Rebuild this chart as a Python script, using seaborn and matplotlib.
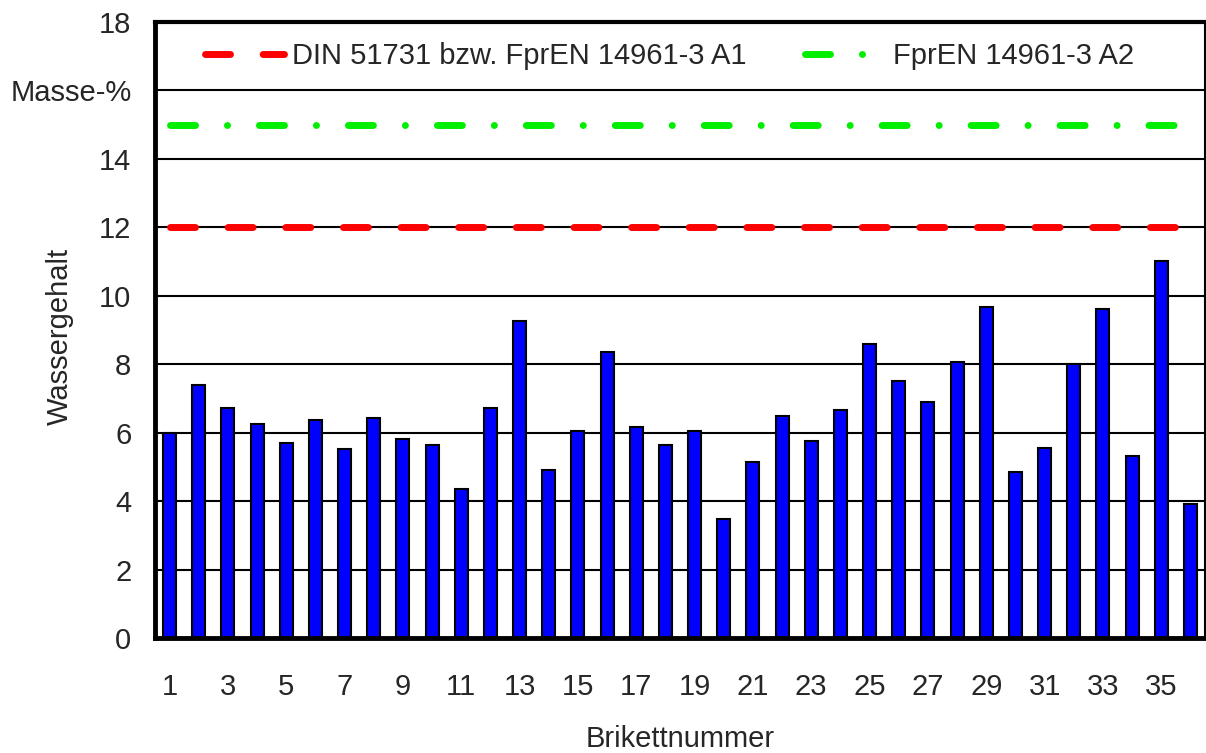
import numpy as np
import pandas as pd
import matplotlib

matplotlib.use("Agg")

import matplotlib.pyplot as plt
import seaborn as sns

sns.set_style("white")
plt.rcParams["font.family"] = ["Liberation Sans", "DejaVu Sans"]

# data
brikett = [str(i) for i in range(1, 37)]
wassergehalt = [
    6.00, 7.38, 6.72, 6.24, 5.70, 6.36, 5.51, 6.43, 5.82, 5.64,
    4.36, 6.72, 9.26, 4.90, 6.06, 8.37, 6.18, 5.64, 6.06, 3.47,
    5.14, 6.49, 5.76, 6.66, 8.59, 7.50, 6.90, 8.06, 9.68, 4.84,
    5.55, 8.00, 9.62, 5.32, 11.02, 3.93,
]
limit_a1 = 12
limit_a2 = 15
label_a1 = "DIN 51731 bzw. FprEN 14961-3 A1"
label_a2 = "FprEN 14961-3 A2"
y_ticks = [0, 2, 4, 6, 8, 10, 12, 14, 16, 18]
y_ticklabels = ["0", "2", "4", "6", "8", "10", "12", "14", "Masse-%", "18"]

df = pd.DataFrame({"Brikett": brikett, "Wassergehalt": wassergehalt})
n = len(df)
FS = 21

fig = plt.figure(figsize=(12.06, 7.53), dpi=100)
ax = fig.add_axes([155 / 1206, 1 - 638 / 753, 1050 / 1206, 616 / 753])

ax.set_axisbelow(True)
ax.yaxis.grid(True, color="black", linewidth=1.5)

sns.barplot(data=df, x="Brikett", y="Wassergehalt", color="#0000FF",
            saturation=1, width=0.45, edgecolor="black", linewidth=1.5,
            ax=ax, zorder=2)

pos = np.arange(n)
ax.plot(pos, np.full(n, limit_a1), color="#FF0000", lw=5,
        dashes=(3.6, 4.7), dash_capstyle="round", label=label_a1, zorder=3)
ax.plot(pos, np.full(n, limit_a2), color="#00EE00", lw=5,
        dashes=(3.6, 4.6, 0.01, 4.6), dash_capstyle="round",
        label=label_a2, zorder=3)

ax.set_xlim(-0.5, n - 0.5)
ax.set_ylim(0, 18)

# x axis: labels on odd numbers, tick marks between categories
ax.set_xticks(pos[::2])
ax.set_xticklabels(brikett[::2], fontsize=FS)
ax.set_xticks(np.arange(-0.5, n, 1), minor=True)
ax.tick_params(axis="x", which="major", length=0, pad=25)
ax.tick_params(axis="x", which="minor", length=8, width=1.5,
               direction="out", color="black")

ax.set_yticks(y_ticks)
ax.set_yticklabels(y_ticklabels, fontsize=FS)
ax.tick_params(axis="y", length=5, width=1.5, direction="out",
               color="black", pad=12)

ax.set_xlabel("Brikettnummer", fontsize=FS)
ax.set_ylabel("Wassergehalt", fontsize=FS)
ax.xaxis.set_label_coords(0.5, (638 - 725) / 616)
ax.yaxis.set_label_coords((74 - 155) / 1050, 0.49)

for side in ["left", "bottom"]:
    ax.spines[side].set_linewidth(3.5)
ax.spines["top"].set_linewidth(3)
ax.spines["right"].set_linewidth(1.5)
for sp in ax.spines.values():
    sp.set_color("black")

ax.legend(loc="center left", bbox_to_anchor=(50 / 1050, 17 / 18),
          ncol=2, frameon=False, fontsize=FS, handlelength=2.7,
          handletextpad=0.3, columnspacing=2.0, borderpad=0,
          borderaxespad=0)

fig.savefig("out.png", dpi=100)
plt.close(fig)
